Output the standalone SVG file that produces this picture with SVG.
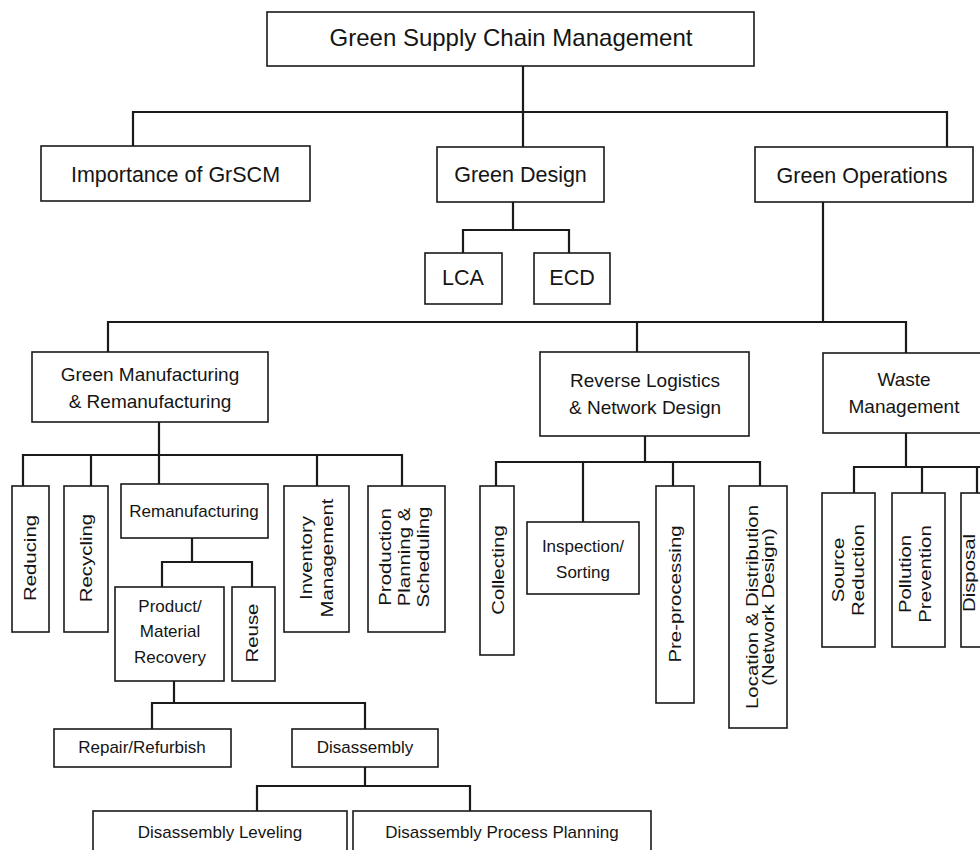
<svg xmlns="http://www.w3.org/2000/svg" width="980" height="850" viewBox="0 0 980 850">
<style>
.b{fill:#fff;stroke:#1a1a1a;stroke-width:1.6}
.c{fill:none;stroke:#1a1a1a;stroke-width:2.2;stroke-linecap:square}
text{font-family:"Liberation Sans",Arial,Helvetica,sans-serif;fill:#151515;text-anchor:middle}
.t24{font-size:24px}
.t21{font-size:21.5px}
.t19{font-size:19px}
.t17{font-size:17px}
</style>
<rect x="0" y="0" width="980" height="850" fill="#fff"/>
<g id="connectors">
<path class="c" d="M523 66V147M133 146V112H947V147"/>
<path class="c" d="M513 202V230M463 253V230H569V253"/>
<path class="c" d="M823 202V322M108 352V322H906V353M637 322V352"/>
<path class="c" d="M159 422V455M23 486V455H402V486M91 455V486M159 455V484M317 455V486"/>
<path class="c" d="M192 538V562M162 587V562H252V587"/>
<path class="c" d="M174 681V703M152 729V703H365V729"/>
<path class="c" d="M365 767V786M257 811V786H470V811"/>
<path class="c" d="M645 436V462M496 486V462H760V486M583 462V522M673 462V486"/>
<path class="c" d="M906 433V467M854 493V467H980M922 467V493M977 467V493"/>
</g>
<g id="root"><rect class="b" x="267" y="12" width="487" height="54"/><text class="t24" x="511" y="46">Green Supply Chain Management</text></g>
<g id="importance"><rect class="b" x="41" y="146" width="269" height="55"/><text class="t21" x="175.5" y="182">Importance of GrSCM</text></g>
<g id="green-design"><rect class="b" x="437" y="147" width="167" height="55"/><text class="t21" x="520.5" y="182">Green Design</text></g>
<g id="green-operations"><rect class="b" x="755" y="147" width="218" height="55"/><text class="t21" x="862" y="183">Green Operations</text></g>
<g id="lca"><rect class="b" x="425" y="253" width="77" height="51"/><text class="t21" x="463" y="285">LCA</text></g>
<g id="ecd"><rect class="b" x="534" y="253" width="76" height="51"/><text class="t21" x="572" y="285">ECD</text></g>
<g id="green-manufacturing"><rect class="b" x="32" y="352" width="236" height="70"/><text class="t19" x="150" y="381">Green Manufacturing</text><text class="t19" x="150" y="408">&amp; Remanufacturing</text></g>
<g id="reverse-logistics"><rect class="b" x="540" y="352" width="209" height="84"/><text class="t19" x="645" y="387">Reverse Logistics</text><text class="t19" x="645" y="414">&amp; Network Design</text></g>
<g id="waste-management"><rect class="b" x="823" y="353" width="170" height="80"/><text class="t19" x="904" y="386">Waste</text><text class="t19" x="904" y="413">Management</text></g>
<g id="reducing"><rect class="b" x="12" y="486" width="37" height="146"/><text class="t17" transform="translate(30,558) rotate(-90) scale(1.2,1)" y="6">Reducing</text></g>
<g id="recycling"><rect class="b" x="64" y="486" width="44" height="146"/><text class="t17" transform="translate(86,558) rotate(-90) scale(1.2,1)" y="6">Recycling</text></g>
<g id="remanufacturing"><rect class="b" x="121" y="484" width="147" height="54"/><text class="t17" x="194" y="517">Remanufacturing</text></g>
<g id="inventory"><rect class="b" x="284" y="486" width="65" height="146"/><text class="t17" transform="translate(306,558) rotate(-90) scale(1.2,1)" y="6">Inventory</text><text class="t17" transform="translate(327,558) rotate(-90) scale(1.2,1)" y="6">Management</text></g>
<g id="production"><rect class="b" x="368" y="486" width="77" height="146"/><text class="t17" transform="translate(385,557) rotate(-90) scale(1.2,1)" y="6">Production</text><text class="t17" transform="translate(404,557) rotate(-90) scale(1.2,1)" y="6">Planning &amp;</text><text class="t17" transform="translate(423,557) rotate(-90) scale(1.2,1)" y="6">Scheduling</text></g>
<g id="product-material-recovery"><rect class="b" x="115" y="587" width="109" height="94"/><text class="t17" x="170" y="612">Product/</text><text class="t17" x="170" y="637">Material</text><text class="t17" x="170" y="663">Recovery</text></g>
<g id="reuse"><rect class="b" x="232" y="587" width="43" height="94"/><text class="t17" transform="translate(252,633) rotate(-90) scale(1.2,1)" y="6">Reuse</text></g>
<g id="repair"><rect class="b" x="54" y="729" width="177" height="38"/><text class="t17" x="142" y="753">Repair/Refurbish</text></g>
<g id="disassembly"><rect class="b" x="292" y="729" width="146" height="38"/><text class="t17" x="365" y="753">Disassembly</text></g>
<g id="disassembly-leveling"><rect class="b" x="93" y="811" width="254" height="60"/><text class="t17" x="220" y="838">Disassembly Leveling</text></g>
<g id="disassembly-process-planning"><rect class="b" x="353" y="811" width="298" height="60"/><text class="t17" x="502" y="838">Disassembly Process Planning</text></g>
<g id="collecting"><rect class="b" x="480" y="486" width="34" height="169"/><text class="t17" transform="translate(498,570) rotate(-90) scale(1.2,1)" y="6">Collecting</text></g>
<g id="inspection"><rect class="b" x="527" y="522" width="112" height="72"/><text class="t17" x="583" y="552">Inspection/</text><text class="t17" x="583" y="578">Sorting</text></g>
<g id="preprocessing"><rect class="b" x="656" y="486" width="38" height="217"/><text class="t17" transform="translate(675,594) rotate(-90) scale(1.2,1)" y="6">Pre-processing</text></g>
<g id="location"><rect class="b" x="729" y="486" width="58" height="242"/><text class="t17" transform="translate(752,607) rotate(-90) scale(1.2,1)" y="6">Location &amp; Distribution</text><text class="t17" transform="translate(768,607) rotate(-90) scale(1.2,1)" y="6">(Network Design)</text></g>
<g id="source-reduction"><rect class="b" x="822" y="493" width="53" height="154"/><text class="t17" transform="translate(838,570) rotate(-90) scale(1.2,1)" y="6">Source</text><text class="t17" transform="translate(858,570) rotate(-90) scale(1.2,1)" y="6">Reduction</text></g>
<g id="pollution-prevention"><rect class="b" x="892" y="493" width="53" height="154"/><text class="t17" transform="translate(905,574) rotate(-90) scale(1.2,1)" y="6">Pollution</text><text class="t17" transform="translate(925,574) rotate(-90) scale(1.2,1)" y="6">Prevention</text></g>
<g id="disposal"><rect class="b" x="961" y="493" width="45" height="154"/><text class="t17" transform="translate(970,573) rotate(-90) scale(1.2,1)" y="5">Disposal</text></g>
</svg>
